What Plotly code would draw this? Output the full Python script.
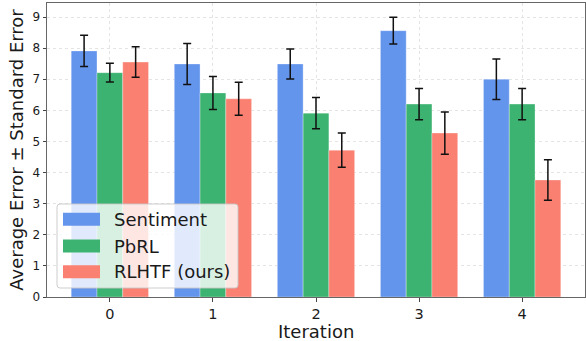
import plotly.graph_objects as go

iterations = [0, 1, 2, 3, 4]
tick_labels = ["0", "1", "2", "3", "4"]
series_names = ["Sentiment", "PbRL", "RLHTF (ours)"]
sentiment_mean = [7.91, 7.49, 7.49, 8.56, 7.00]
sentiment_se = [0.50, 0.66, 0.48, 0.43, 0.65]
pbrl_mean = [7.21, 6.56, 5.91, 6.20, 6.20]
pbrl_se = [0.30, 0.53, 0.50, 0.50, 0.50]
rlhtf_mean = [7.55, 6.37, 4.72, 5.27, 3.76]
rlhtf_se = [0.49, 0.53, 0.55, 0.68, 0.65]

colors = ["#6495ED", "#3CB371", "#FA8072"]
means = [sentiment_mean, pbrl_mean, rlhtf_mean]
ses = [sentiment_se, pbrl_se, rlhtf_se]

FONT = "DejaVu Sans"
TXT = "#1a1a1a"

fig = go.Figure()
for name, m, s, c in zip(series_names, means, ses, colors):
    fig.add_trace(go.Bar(
        x=iterations, y=m, name=name,
        marker=dict(color=c, line=dict(color="rgba(255,255,255,0.5)", width=0.6)),
        error_y=dict(type="data", array=s, visible=True, color="#111111",
                     thickness=1.5, width=4),
        showlegend=False,
    ))

# custom legend (matplotlib style)
W, H = 538.0, 294.0
L, B = 47.0, 297.0
def px_x(p):
    return (p - L) / W
def px_y(p):
    return (B - p) / H

shapes = []
annotations = []
x0, x1, y0, y1 = 57, 238, 204, 288
r = 3
path = (f"M {px_x(x0+r)},{px_y(y0)} L {px_x(x1-r)},{px_y(y0)} "
        f"Q {px_x(x1)},{px_y(y0)} {px_x(x1)},{px_y(y0+r)} "
        f"L {px_x(x1)},{px_y(y1-r)} Q {px_x(x1)},{px_y(y1)} {px_x(x1-r)},{px_y(y1)} "
        f"L {px_x(x0+r)},{px_y(y1)} Q {px_x(x0)},{px_y(y1)} {px_x(x0)},{px_y(y1-r)} "
        f"L {px_x(x0)},{px_y(y0+r)} Q {px_x(x0)},{px_y(y0)} {px_x(x0+r)},{px_y(y0)} Z")
shapes.append(dict(type="path", xref="paper", yref="paper", path=path,
                   fillcolor="rgba(255,255,255,0.8)",
                   line=dict(color="rgba(200,200,200,0.9)", width=1), layer="above"))
row_centers = [219.3, 246.0, 271.7]
for name, c, yc in zip(series_names, colors, row_centers):
    shapes.append(dict(type="rect", xref="paper", yref="paper",
                       x0=px_x(63), x1=px_x(100), y0=px_y(yc + 6.5), y1=px_y(yc - 6.5),
                       fillcolor=c, line=dict(width=0), layer="above"))
    annotations.append(dict(xref="paper", yref="paper", x=px_x(112), y=px_y(yc),
                            text=name, showarrow=False, xanchor="left", yanchor="middle",
                            font=dict(family=FONT, size=18, color=TXT)))

# x-axis title placed as annotation for exact positioning
annotations.append(dict(xref="paper", yref="paper", x=0.5, y=px_y(331),
                        text="Iteration", showarrow=False, xanchor="center", yanchor="middle",
                        font=dict(family=FONT, size=18, color=TXT)))

fig.update_layout(
    width=586, height=341,
    margin=dict(l=47, r=1, t=3, b=44),
    paper_bgcolor="white", plot_bgcolor="white",
    barmode="group", bargap=0.25, bargroupgap=0.0,
    font=dict(family=FONT, color=TXT),
    shapes=shapes, annotations=annotations,
    showlegend=False,
)
fig.update_xaxes(
    range=[-0.61, 4.61], tickmode="array", tickvals=iterations, ticktext=tick_labels,
    tickfont=dict(size=14.5, family=FONT, color=TXT),
    showgrid=True, gridcolor="#e4e4e4", griddash="dot", gridwidth=0.8,
    showline=True, mirror=True, linecolor="#666666", linewidth=1,
    ticks="outside", ticklen=3.5, tickcolor="#444444", zeroline=False,
)
fig.update_yaxes(
    range=[0, 9.45], tickmode="array", tickvals=list(range(10)),
    tickfont=dict(size=12, family=FONT, color=TXT),
    title=dict(text="Average Error ± Standard Error", font=dict(size=18, family=FONT, color=TXT), standoff=4),
    showgrid=True, gridcolor="#e4e4e4", griddash="dot", gridwidth=0.8,
    showline=True, mirror=True, linecolor="#666666", linewidth=1,
    ticks="outside", ticklen=3.5, tickcolor="#444444", zeroline=False,
)

fig.write_html("out.html")
